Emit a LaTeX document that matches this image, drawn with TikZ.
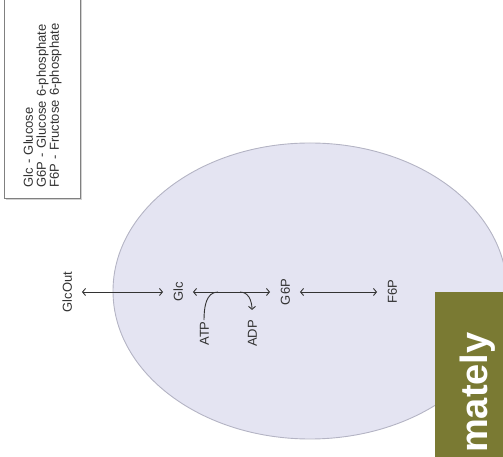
\documentclass[tikz,border=0pt]{standalone}
\usepackage{fontspec}
\setmainfont{Liberation Sans}
\usepackage{xcolor}
\usepackage{tikz}
\usetikzlibrary{shapes, arrows.meta, positioning, shadows}
\definecolor{cellfill}{HTML}{E4E4F2}
\definecolor{celledge}{HTML}{B4B4C4}
\definecolor{inkgray}{HTML}{333333}
\definecolor{bannerolive}{HTML}{7A7A33}

\begin{document}
\begin{tikzpicture}[
                x=1pt, y=1pt,
                metab/.style={rotate=90, font=\fontsize{13}{13}\selectfont, text=inkgray, text height=9.5pt, text depth=0pt, inner xsep=1pt, inner ysep=10pt},
                arrow/.style={{Straight Barb[length=3pt,width=7pt]}-{Straight Barb[length=3pt,width=7pt]}, draw=inkgray, line width=0.9pt},
                side/.style={draw=inkgray, line width=0.9pt},
                legend/.style={rotate=90, draw=gray, line width=0.8pt, fill=white, drop shadow={shadow xshift=1.5pt, shadow yshift=-1.5pt, fill=gray!70},
                    font=\fontsize{13}{13}\selectfont, text=inkgray, text width=190pt, align=left, inner xsep=11pt, inner ysep=19pt}
            ]
                \useasboundingbox (0,0) rectangle (503,457);
                \clip (0,0) rectangle (503,457);

                % cell
                \draw[fill=cellfill, draw=celledge, line width=0.9pt] (310,166) ellipse [x radius=197, y radius=148];

                % legend
                \node[legend, anchor=south west] (key) at (81,258) {Glc - Glucose\\G6P - Glucose 6-phosphate\\F6P - Fructose 6-phosphate};

                % metabolites
                \node[metab] (glcout) at (67,165) {GlcOut};
                \node[metab] (glc) at (178,165) {Glc};
                \node[metab] (g6p) at (285,165) {G6P};
                \node[metab] (f6p) at (392,165) {F6P};
                \node[metab] (atp) at (204,123.5) {ATP};
                \node[metab] (adp) at (252,123.5) {ADP};

                \draw[arrow] (glcout) -- (glc);
                \draw[arrow] (glc) -- (g6p);
                \draw[arrow] (g6p) -- (f6p);

                \coordinate (atpjoin) at (218,165);
                \coordinate (adpjoin) at (240,165);
                \draw[side] (atpjoin) to[out=180, in=90] (atp.east);
                \draw[side, -{Straight Barb[length=3pt,width=7pt]}, shorten >=9pt] (adpjoin) to[out=0, in=90] (adp.east);

                % banner
                \fill[bannerolive] (435,0) rectangle (503,165);
                \node[rotate=90, anchor=base west, inner sep=0pt, text=white, font=\fontsize{38}{38}\selectfont\bfseries] (banner) at (487,4) {mately};
            \end{tikzpicture}
\end{document}
